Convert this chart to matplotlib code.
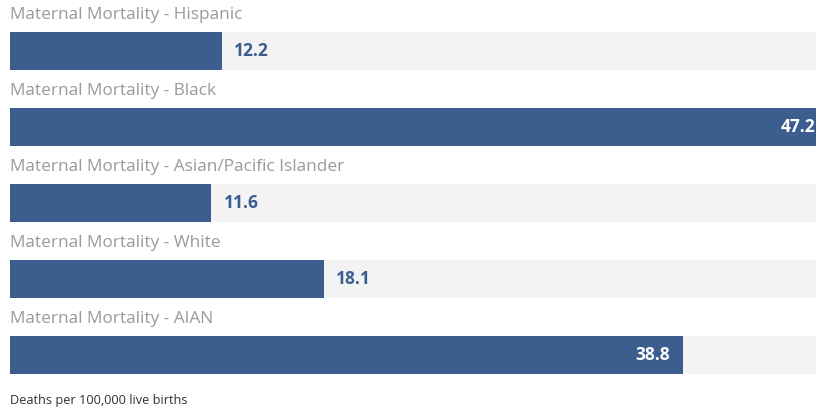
import matplotlib.pyplot as plt

groups = ["Hispanic", "Black", "Asian/Pacific Islander", "White", "AIAN"]
rates = [12.2, 47.2, 11.6, 18.1, 38.8]
note = "Deaths per 100,000 live births"

bar_color = "#3b5e8e"
track_color = "#f3f3f3"
label_color = "#9a9a9a"

fig = plt.figure(figsize=(8.16, 4.11), dpi=100)
ax = fig.add_axes([0, 0, 1, 1])

x_right = 46.5
pos = list(range(len(groups)))

# background track then the bar itself
ax.barh(pos, [x_right + 5] * len(pos), height=0.5, color=track_color, left=0)
ax.barh(pos, rates, height=0.5, color=bar_color)

for i, (g, v) in enumerate(zip(groups, rates)):
    ax.text(0, i - 0.47, "Maternal Mortality - " + g, fontsize=12.4, family="Open Sans",
            color=label_color, va="center", ha="left")
    if v > 20:
        ax.text(v - 0.75, i, f"{v}", fontsize=12.5, family="Open Sans", weight="bold",
                color="white", va="center", ha="right")
    else:
        ax.text(v + 0.7, i, f"{v}", fontsize=12.5, family="Open Sans", weight="bold",
                color=bar_color, va="center", ha="left")

ax.text(0, 4.605, note, fontsize=9.2, family="Open Sans", color="#333333",
        va="center", ha="left")

ax.set_xlim(-0.606, x_right)
ax.set_ylim(4.737, -0.671)
ax.axis("off")

fig.savefig("out.png", dpi=100)
